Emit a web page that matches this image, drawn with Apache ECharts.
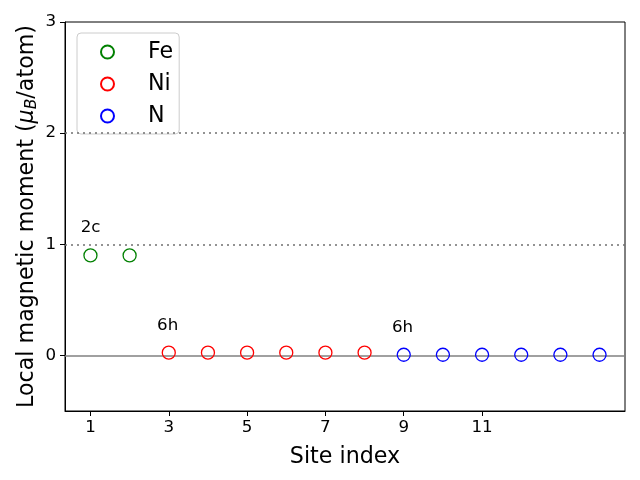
<!DOCTYPE html>
<html>
<head>
<meta charset="utf-8">
<script src="https://cdn.jsdelivr.net/npm/echarts@6/dist/echarts.min.js"></script>
<style>html,body{margin:0;padding:0;background:#fff}#c{width:640px;height:480px}</style>
</head>
<body>
<div id="c"></div>
<script>
var feSites = [1, 2];
var feValues = [0.9, 0.9];
var niSites = [3, 4, 5, 6, 7, 8];
var niValues = [0.025, 0.025, 0.025, 0.025, 0.025, 0.025];
var nSites = [9, 10, 11, 12, 13, 14];
var nValues = [0.006, 0.006, 0.006, 0.006, 0.006, 0.006];
var xTicks = [1, 3, 5, 7, 9, 11];
var yTicks = [0, 1, 2, 3];
var annotX = [0.75, 2.7, 8.7];
var annotY = [1.07, 0.19, 0.17];
var annotText = ['2c', '6h', '6h'];
var refLines = [0, 1, 2];

function pairs(xs, ys) { return xs.map(function (x, i) { return [x, ys[i]]; }); }
var FONT = 'DejaVu Sans';

function sc(name, xs, ys, color) {
  return {
    name: name, type: 'scatter', data: pairs(xs, ys), symbol: 'circle', symbolSize: 13,
    itemStyle: { color: 'rgba(0,0,0,0)', borderColor: color, borderWidth: 1.3, opacity: 1 },
    z: 5
  };
}

var chart = echarts.init(document.getElementById('c'), null, { renderer: 'canvas' });
var series = [
  sc('Fe', feSites, feValues, '#008000'),
  sc('Ni', niSites, niValues, '#ff0000'),
  sc('N', nSites, nValues, '#0000ff'),
  {
    name: 'annot', type: 'scatter', symbolSize: 0, silent: true,
    itemStyle: { opacity: 1 },
    data: annotX.map(function (x, i) { return [x, annotY[i], annotText[i]]; }),
    label: {
      show: true, position: [0, 0], align: 'left', verticalAlign: 'bottom',
      formatter: function (p) { return p.data[2]; },
      fontFamily: FONT, fontSize: 16.7, color: '#000', opacity: 1
    },
    markLine: {
      silent: true, symbol: 'none', label: { show: false },
      data: refLines.map(function (v) {
        return { yAxis: v, lineStyle: v === 0 ? { color: '#808080', width: 1.5, type: 'solid', opacity: 1 } : { color: '#707070', width: 1.5, type: [2, 4], opacity: 1 } };
      })
    },
    z: 2
  }
];

chart.setOption({
  animation: false,
  backgroundColor: '#fff',
  grid: { left: 65, right: 15, top: 22, bottom: 69, show: true, borderColor: '#000', borderWidth: 1, backgroundColor: 'transparent' },
  legend: {
    data: ['Fe', 'Ni', 'N'], orient: 'vertical', left: 77, top: 33,
    icon: 'circle', itemWidth: 43, itemHeight: 13, itemGap: 10,
    padding: [8, 6, 7, 23],
    backgroundColor: '#fff', borderColor: '#cccccc', borderWidth: 1, borderRadius: 4,
    textStyle: { fontFamily: FONT, fontSize: 22.2, color: '#000', lineHeight: 22, padding: [0, 0, 0, 14] }
  },
  xAxis: {
    type: 'value', min: 0.35, max: 14.65,
    name: 'Site index', nameLocation: 'middle', nameGap: 35,
    nameTextStyle: { fontFamily: FONT, fontSize: 22.2, color: '#000' },
    axisLine: { show: true, onZero: false, lineStyle: { color: '#000', width: 1 } },
    axisTick: { show: true, length: 5, inside: false, customValues: xTicks, lineStyle: { color: '#000' } },
    axisLabel: { customValues: xTicks, fontFamily: FONT, fontSize: 16.7, color: '#000', margin: 8 },
    splitLine: { show: false }
  },
  yAxis: {
    type: 'value', min: -0.5, max: 3,
    name: 'Local magnetic moment ({i|μ}{sub|B}/atom)', nameLocation: 'middle', nameGap: 25, nameRotate: 90,
    nameMoveOverlap: false,
    nameTextStyle: {
      fontFamily: FONT, fontSize: 22.2, color: '#000',
      rich: {
        i: { fontFamily: FONT, fontStyle: 'italic', fontSize: 22.2, color: '#000' },
        sub: { fontFamily: FONT, fontStyle: 'italic', fontSize: 15.5, color: '#000', verticalAlign: 'bottom', padding: [10, 0, 0, 0] }
      }
    },
    axisLine: { show: true, onZero: false, lineStyle: { color: '#000', width: 1 } },
    axisTick: { show: true, length: 5, customValues: yTicks, lineStyle: { color: '#000' } },
    axisLabel: { customValues: yTicks, fontFamily: FONT, fontSize: 16.7, color: '#000', margin: 9 },
    splitLine: { show: false }
  },
  series: series
});
</script>
</body>
</html>
